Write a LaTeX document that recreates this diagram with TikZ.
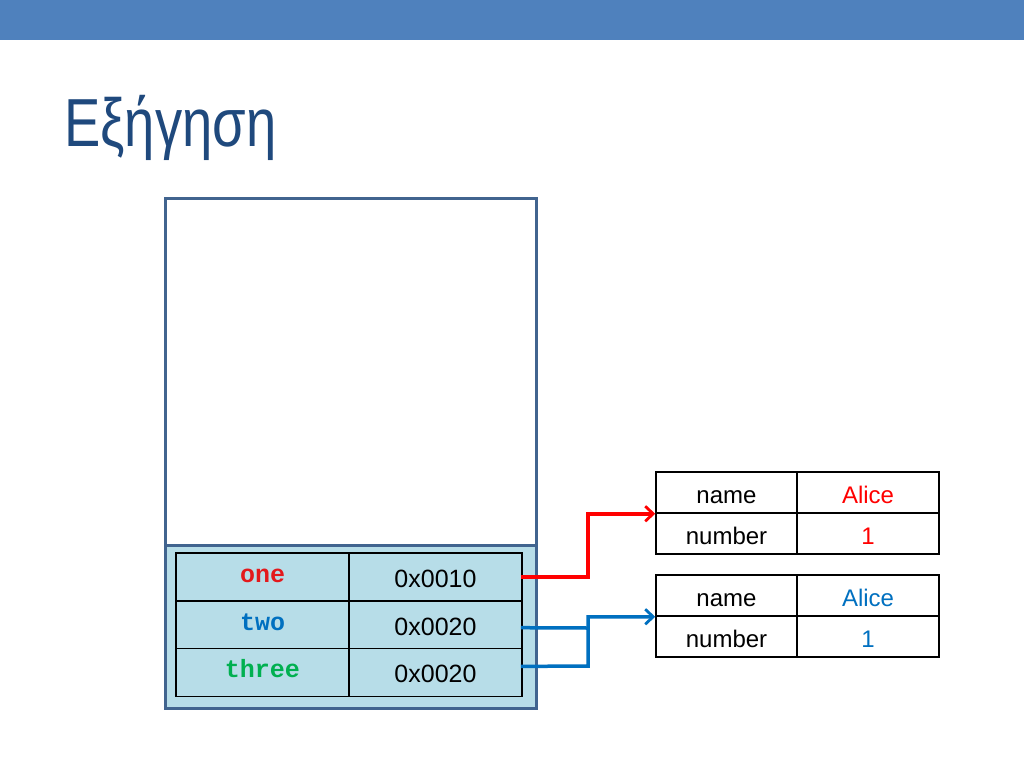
\documentclass[tikz,border=0pt]{standalone}
\usepackage{fontspec}
\setmainfont{Liberation Sans}
\newfontfamily\monob{Liberation Mono}
\usetikzlibrary{arrows.meta}
\definecolor{barblue}{HTML}{4F81BD}
\definecolor{titleblue}{HTML}{1F497D}
\definecolor{boxedge}{HTML}{41648F}
\definecolor{lightfill}{HTML}{B7DDE8}
\definecolor{pred}{HTML}{FF0000}
\definecolor{oneRed}{HTML}{E3191C}
\definecolor{pblue}{HTML}{0070C0}
\definecolor{pgreen}{HTML}{00B050}
\tikzset{
  lcell/.style={draw=black, line width=1.5pt, minimum width=173pt, minimum height=47.7pt, inner sep=0pt, text height=23pt, text depth=2pt, font=\fontsize{25}{30}\selectfont},
  vcell/.style={lcell, text height=18pt, text depth=7pt, font=\monob\bfseries\fontsize{25}{30}\selectfont},
  rcell/.style={draw=black, line width=1.5pt, minimum height=41pt, inner sep=0pt, text height=23pt, text depth=2pt, font=\fontsize{24}{29}\selectfont},
  kcell/.style={rcell, minimum width=141pt},
  dcell/.style={rcell, minimum width=142pt},
  link/.style={line width=3.5pt, -{Straight Barb[length=8pt, width=15pt, line width=2.8pt]}},
  plain/.style={line width=3.5pt}
}
\begin{document}
\begin{tikzpicture}[x=1pt,y=-1pt]
\useasboundingbox (0,0) rectangle (1024,768);
\fill[white] (0,0) rectangle (1024,768);
\fill[barblue] (0,0) rectangle (1024,40);
\node[anchor=base west, inner sep=0pt, text=titleblue, font=\fontsize{68}{72}\selectfont] (title) at (64,146) {\scalebox{0.8}[1]{Εξήγηση}};
% memory box
\draw[boxedge, line width=3pt, fill=lightfill] (165,545) rectangle (536,708);
\draw[boxedge, line width=3pt, fill=white] (165,198) rectangle (536,545);
% left table
\node[vcell, text=oneRed] (v1) at (262.5,577) {one};
\node[lcell] (a1) at (435.5,577) {0x0010};
\node[vcell, text=pblue] (v2) at (262.5,624.7) {two};
\node[lcell] (a2) at (435.5,624.7) {0x0020};
\node[vcell, text=pgreen] (v3) at (262.5,672.4) {three};
\node[lcell] (a3) at (435.5,672.4) {0x0020};
% right tables
\node[kcell] (n1) at (726.5,492.5) {name};
\node[dcell, text=pred] (d1) at (868,492.5) {Alice};
\node[kcell] (m1) at (726.5,533.5) {number};
\node[dcell, text=pred] (e1) at (868,533.5) {1};
\node[kcell] (n2) at (726.5,595.5) {name};
\node[dcell, text=pblue] (d2) at (868,595.5) {Alice};
\node[kcell] (m2) at (726.5,636.5) {number};
\node[dcell, text=pblue] (e2) at (868,636.5) {1};
% connectors
\coordinate (jr) at (588,577);
\coordinate (j2) at (588,628);
\coordinate (j3) at (588,666);
\draw[link, pred] ([xshift=-2pt]a1.east) -- (jr) |- (n1.south west);
\draw[plain, pblue] ([xshift=-2pt,yshift=-3pt]a2.east) -- (j2);
\draw[link, pblue] ([xshift=-2pt,yshift=6pt]a3.east) -- (j3) |- (n2.south west);
\end{tikzpicture}
\end{document}
